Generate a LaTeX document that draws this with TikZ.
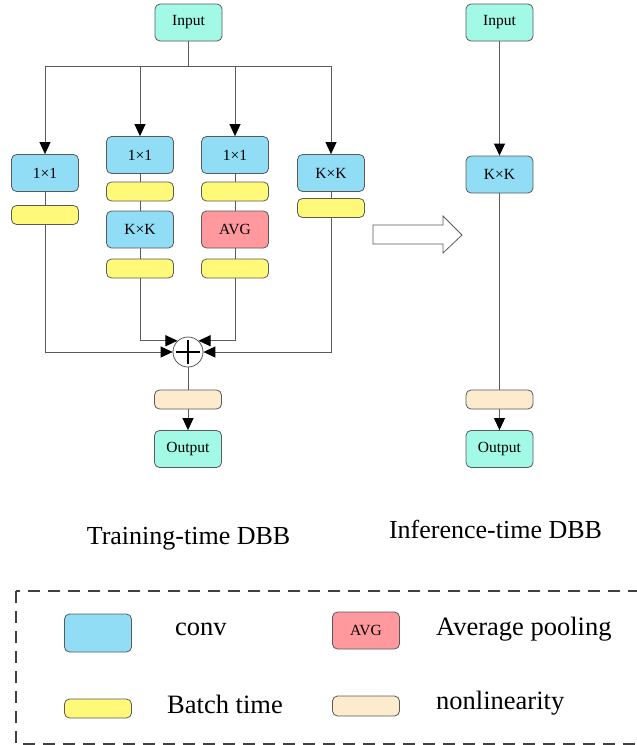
\documentclass[tikz,border=0pt]{standalone}
\usepackage{fontspec}
\setmainfont{Liberation Serif}
\usetikzlibrary{arrows.meta}
\definecolor{iocol}{HTML}{A2FAE6}
\definecolor{convcol}{HTML}{91DDF6}
\definecolor{bncol}{HTML}{FFF97A}
\definecolor{avgcol}{HTML}{FF999E}
\definecolor{nlcol}{HTML}{FCEBCD}
\definecolor{edgecol}{HTML}{5A5A5A}
\begin{document}
\begin{tikzpicture}[x=1pt,y=-1pt,
  box/.style={draw=edgecol,line width=0.8pt,rounded corners=5pt,inner sep=0pt,
    minimum width=67pt,font=\fontsize{15.5}{18}\selectfont},
  io/.style={box,fill=iocol,minimum height=37pt},
  conv/.style={box,fill=convcol,minimum height=37pt},
  avg/.style={box,fill=avgcol,minimum height=37pt},
  bn/.style={box,fill=bncol,minimum height=19pt},
  nl/.style={box,fill=nlcol,minimum height=19pt},
  wire/.style={draw=edgecol,line width=0.9pt},
  arr/.style={wire,-{Triangle[length=12pt,width=11pt,fill=black,color=black]}},
  title/.style={inner sep=0pt,anchor=base,font=\fontsize{26}{30}\selectfont},
  legtext/.style={inner sep=0pt,anchor=base west,font=\fontsize{26.5}{30}\selectfont}]
\useasboundingbox (0,0) rectangle (637,745);
% ---------- training-time ----------
\node[io] (in1) at (188.5,22.5) {Input};
\coordinate (split) at (188.5,66);
\node[conv] (b1c) at (45,173) {1×1};
\node[bn] (b1y) at (45,215) {};
\node[conv] (b2c1) at (140,155) {1×1};
\node[bn] (b2y1) at (140,191.5) {};
\node[conv] (b2c2) at (140,229.5) {K×K};
\node[bn] (b2y2) at (140,268.5) {};
\node[conv] (b3c1) at (235,155) {1×1};
\node[bn] (b3y1) at (235,191.5) {};
\node[avg] (b3avg) at (235,229.5) {AVG};
\node[bn] (b3y2) at (235,268.5) {};
\node[conv] (b4c) at (331,173) {K×K};
\node[bn] (b4y) at (331,208) {};
\node[circle,draw=edgecol,line width=0.8pt,fill=white,minimum size=30pt,inner sep=0pt] (plus) at (188,352) {};
\draw[line width=1.3pt] ([xshift=-12pt]plus.center) -- ([xshift=12pt]plus.center);
\draw[line width=1.3pt] ([yshift=-12pt]plus.center) -- ([yshift=12pt]plus.center);
\node[nl] (nl1) at (188,399.5) {};
\node[io] (out1) at (188,449) {Output};

\draw[wire] (in1.south) -- (split);
\draw[arr] (split) -| (b1c.north);
\draw[arr] (split) -| (b2c1.north);
\draw[arr] (split) -| (b3c1.north);
\draw[arr] (split) -| (b4c.north);
\draw[wire] (b1c) -- (b1y);
\draw[wire] (b2c1) -- (b2y1);
\draw[wire] (b2y1) -- (b2c2);
\draw[wire] (b2c2) -- (b2y2);
\draw[wire] (b3c1) -- (b3y1);
\draw[wire] (b3y1) -- (b3avg);
\draw[wire] (b3avg) -- (b3y2);
\draw[wire] (b4c) -- (b4y);
\draw[arr] (b1y.south) |- (plus.west);
\draw[arr] (b4y.south) |- (plus.east);
\draw[arr] (b2y2.south) |- (plus.133);
\draw[arr] (b3y2.south) |- (plus.47);
\draw[wire] (plus.south) -- (nl1.north);
\draw[arr] (nl1.south) -- (out1.north);

% ---------- hollow arrow ----------
\draw[draw=edgecol,line width=0.8pt,fill=white] (373,225) -- (443,225) -- (443,216) -- (462,235) -- (443,253) -- (443,244) -- (373,244) -- cycle;

% ---------- inference-time ----------
\node[io] (in2) at (499.5,22.5) {Input};
\node[conv] (kk2) at (499.5,174.5) {K×K};
\node[nl] (nl2) at (499.5,399.5) {};
\node[io] (out2) at (499.5,449) {Output};
\draw[arr] (in2.south) -- (kk2.north);
\draw[wire] (kk2.south) -- (nl2.north);
\draw[arr] (nl2.south) -- (out2.north);

\node[title] (t1) at (188.5,544) {Training-time DBB};
\node[title] (t2) at (495.5,538) {Inference-time DBB};

% ---------- legend ----------
\draw[line width=1.6pt,draw=black!75,dash pattern=on 12pt off 8pt] (16,591) rectangle (665,744);
\node[conv,minimum width=67pt,minimum height=38pt] (lconv) at (98,633) {};
\node[legtext] (tconv) at (175,635) {conv};
\node[avg,minimum width=67pt,minimum height=37pt] (lavg) at (366,630.5) {AVG};
\node[legtext] (tavg) at (436,635) {Average pooling};
\node[bn] (lbn) at (98,708.5) {};
\node[legtext] (tbn) at (167,713) {Batch time};
\node[nl,minimum height=20pt] (lnl) at (366,706) {};
\node[legtext] (tnl) at (436,709) {nonlinearity};
\end{tikzpicture}
\end{document}
